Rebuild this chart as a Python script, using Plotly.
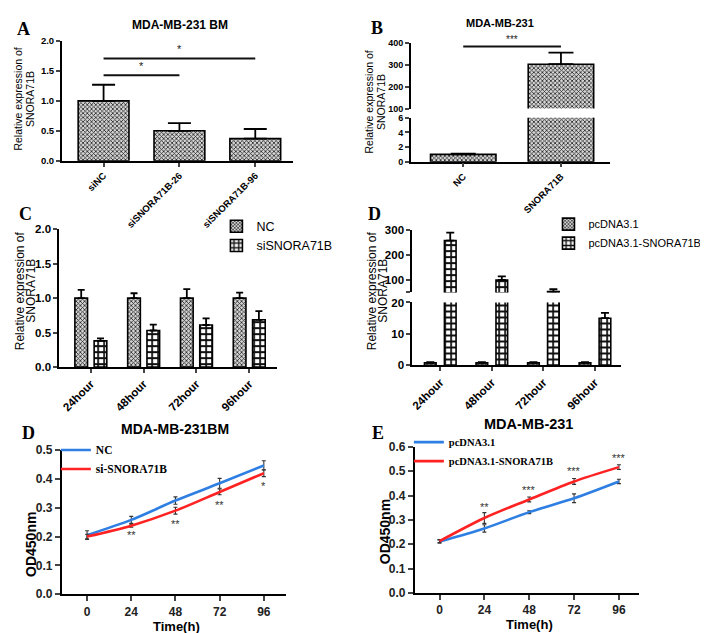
import plotly.graph_objects as go

W, H = 708, 633

def X(px):
    return px / W

def Y(py):
    return 1 - py / H

# ---------------- data ----------------
# Panel A
a_cats = ["siNC", "siSNORA71B-26", "siSNORA71B-96"]
a_vals = [1.0, 0.50, 0.37]
a_err = [0.27, 0.13, 0.16]
a_sig = [(0, 1, 1.43, "*"), (0, 2, 1.71, "*")]

# Panel B
b_cats = ["NC", "SNORA71B"]
b_vals = [1.0, 302.0]
b_err = [0.1, 53.0]
b_sig = [(0, 1, 382, "***")]

# Panel C
c_times = ["24hour", "48hour", "72hour", "96hour"]
c_nc = [1.0, 1.0, 1.0, 1.0]
c_nc_err = [0.12, 0.07, 0.13, 0.08]
c_si = [0.38, 0.53, 0.61, 0.685]
c_si_err = [0.035, 0.085, 0.095, 0.125]

# Panel D (middle)
d_times = ["24hour", "48hour", "72hour", "96hour"]
d_pc = [0.8, 0.8, 0.8, 0.8]
d_pc_err = [0.2, 0.2, 0.2, 0.2]
d_sn = [258.0, 100.0, 53.0, 15.0]
d_sn_err = [32.0, 14.0, 10.0, 1.7]

# Panel D (bottom)
t_hours = [0, 24, 48, 72, 96]
bd_nc = [0.205, 0.258, 0.325, 0.385, 0.447]
bd_nc_err = [0.015, 0.012, 0.013, 0.017, 0.016]
bd_si = [0.200, 0.238, 0.290, 0.355, 0.420]
bd_si_err = [0.008, 0.005, 0.012, 0.010, 0.012]
bd_stars = ["", "**", "**", "**", "*"]
bd_star_y = [None, 0.206, 0.243, 0.311, 0.375]

# Panel E
e_pc = [0.211, 0.265, 0.332, 0.389, 0.458]
e_pc_err = [0.007, 0.015, 0.006, 0.018, 0.009]
e_sn = [0.213, 0.308, 0.384, 0.458, 0.517]
e_sn_err = [0.006, 0.022, 0.010, 0.012, 0.010]
e_stars = ["", "**", "***", "***", "***"]
e_star_y = [None, 0.352, 0.422, 0.500, 0.553]

# ---------------- styles ----------------
SANS = "Liberation Sans"
SERIF = "Liberation Serif"
BLUE = "#2f7fe3"
RED = "#ff2222"
fine = dict(shape="x", size=3, solidity=0.45, fgcolor="#222222", bgcolor="#d4d4d4", fillmode="replace")
coarse = dict(shape="+", size=6, solidity=0.5, fgcolor="#111111", bgcolor="white", fillmode="replace")

fig = go.Figure()


def bar_trace(xpos, vals, err, pattern, xa, ya, width, offset, cap, name=None, legend=None, show=False):
    return go.Bar(
        x=xpos, y=vals, xaxis=xa, yaxis=ya, width=width, offset=offset,
        marker=dict(color="white", pattern=pattern, line=dict(color="black", width=1.6)),
        error_y=dict(type="data", symmetric=False, array=err, arrayminus=[0] * len(err),
                     color="black", thickness=1.8, width=cap),
        name=name, legend=legend, showlegend=show,
    )

# A
a_x = list(range(len(a_cats)))
fig.add_trace(bar_trace(a_x, a_vals, a_err, fine, "x", "y", 0.67, -0.335, 11.5))
# B (lower & upper segments)
b_x = list(range(len(b_cats)))
fig.add_trace(bar_trace(b_x, b_vals, b_err, fine, "x2", "y2", 0.67, -0.335, 12.5))
fig.add_trace(bar_trace(b_x, b_vals, b_err, fine, "x3", "y3", 0.67, -0.335, 12.5))
# C
c_x = list(range(len(c_times)))
fig.add_trace(bar_trace(c_x, c_nc, c_nc_err, fine, "x4", "y4", 0.24, -0.3025, 3.5, "NC", "legend", True))
fig.add_trace(bar_trace(c_x, c_si, c_si_err, coarse, "x4", "y4", 0.24, 0.0625, 3.5, "siSNORA71B", "legend", True))
# D middle (lower & upper)
d_x = list(range(len(d_times)))
for xa, ya, show in (("x5", "y5", True), ("x6", "y6", False)):
    fig.add_trace(bar_trace(d_x, d_pc, d_pc_err, fine, xa, ya, 0.226, -0.3065, 4, "pcDNA3.1", "legend2", show))
    fig.add_trace(bar_trace(d_x, d_sn, d_sn_err, coarse, xa, ya, 0.226, 0.0805, 4, "pcDNA3.1-SNORA71B", "legend2", show))


def line_trace(x, y, err, color, name, xa, ya, legend):
    return go.Scatter(
        x=x, y=y, mode="lines", line=dict(color=color, width=2.6, shape="spline", smoothing=0.8),
        error_y=dict(type="data", array=err, color="#333333", thickness=1.1, width=2),
        xaxis=xa, yaxis=ya, name=name, legend=legend,
    )

fig.add_trace(line_trace(t_hours, bd_nc, bd_nc_err, BLUE, "NC", "x7", "y7", "legend3"))
fig.add_trace(line_trace(t_hours, bd_si, bd_si_err, RED, "si-SNORA71B", "x7", "y7", "legend3"))
fig.add_trace(line_trace(t_hours, e_pc, e_pc_err, BLUE, "pcDNA3.1", "x8", "y8", "legend4"))
fig.add_trace(line_trace(t_hours, e_sn, e_sn_err, RED, "pcDNA3.1-SNORA71B", "x8", "y8", "legend4"))

# ---------------- axes ----------------
def bar_xaxis(x0, x1, y_anchor, rng, labels, size):
    return dict(domain=[X(x0), X(x1)], anchor=y_anchor, range=rng,
                tickmode="array", tickvals=list(range(len(labels))), ticktext=labels,
                tickangle=-45, ticks="outside", ticklen=4, tickwidth=1.5,
                showline=True, linecolor="black", linewidth=1.6, showgrid=False, zeroline=False,
                tickfont=dict(family=SANS, size=size, color="black", weight="bold"))


def bar_yaxis(y_top, y_bot, x_anchor, rng, tickvals, ticktext, size):
    return dict(domain=[Y(y_bot), Y(y_top)], anchor=x_anchor, range=rng,
                tickmode="array", tickvals=tickvals, ticktext=ticktext,
                ticks="outside", ticklen=4, tickwidth=1.5,
                showline=True, linecolor="black", linewidth=1.6, showgrid=False, zeroline=False,
                tickfont=dict(family=SANS, size=size, color="black", weight="bold"))


def hidden_x(x0, x1, anchor, rng):
    return dict(domain=[X(x0), X(x1)], anchor=anchor, range=rng, visible=False, showgrid=False)


def line_xaxis(x0, x1, anchor, rng):
    return dict(domain=[X(x0), X(x1)], anchor=anchor, range=rng, tickvals=t_hours,
                ticks="outside", ticklen=5, tickwidth=2, showline=True, linecolor="black",
                linewidth=2, showgrid=False, zeroline=False,
                tickfont=dict(family=SANS, size=12, color="#222222", weight="bold"))


def line_yaxis(y_top, y_bot, anchor, rng):
    return dict(domain=[Y(y_bot), Y(y_top)], anchor=anchor, range=rng, dtick=0.1, tickformat=".1f",
                ticks="outside", ticklen=5, tickwidth=2, showline=True, linecolor="black",
                linewidth=2, showgrid=False, zeroline=False,
                tickfont=dict(family=SANS, size=12, color="#222222", weight="bold"))

a_xr = [-0.55, 2.5]
b_xr = [-0.536, 1.505]
c_xr = [-0.6, 3.53]
d_xr = [-0.545, 3.51]

fig.update_layout(
    xaxis=bar_xaxis(52, 284, "y", a_xr, a_cats, 9.5),
    yaxis=bar_yaxis(26.7, 149, "x", [0, 2], [0, 0.5, 1, 1.5, 2], ["0.0", "0.5", "1.0", "1.5", "2.0"], 9.5),
    xaxis2=bar_xaxis(402, 602, "y2", b_xr, b_cats, 9.5),
    yaxis2=bar_yaxis(105, 150, "x2", [0, 6], [0, 2, 4, 6], ["0", "2", "4", "6"], 9),
    xaxis3=hidden_x(402, 602, "y3", b_xr),
    yaxis3=bar_yaxis(28.3, 95.7, "x3", [100, 400], [100, 200, 300, 400], ["100", "200", "300", "400"], 9),
    xaxis4=bar_xaxis(49.3, 268, "y4", c_xr, c_times, 11.5),
    yaxis4=bar_yaxis(219, 360, "x4", [0, 2], [0, 0.5, 1, 1.5, 2], ["0.0", "0.5", "1.0", "1.5", "2.0"], 11.5),
    xaxis5=bar_xaxis(403.3, 613, "y5", d_xr, d_times, 11.5),
    yaxis5=bar_yaxis(294, 358.3, "x5", [0, 20], [0, 10, 20], ["0", "10", "20"], 11.5),
    xaxis6=hidden_x(403.3, 613, "y6", d_xr),
    yaxis6=bar_yaxis(220, 283.7, "x6", [50, 300], [50, 100, 200, 300], ["", "100", "200", "300"], 11.5),
    xaxis7=line_xaxis(52, 276.7, "y7", [-13.7, 108]),
    yaxis7=line_yaxis(445, 592.3, "x7", [0, 0.5]),
    xaxis8=line_xaxis(406, 630.7, "y8", [-13.2, 106.7]),
    yaxis8=line_yaxis(441.7, 591, "x8", [0, 0.6]),
)

# ---------------- legends ----------------
def legend_at(xpx, ypx, family, size, weight="normal"):
    return dict(x=X(xpx), y=Y(ypx), xanchor="left", yanchor="top", bgcolor="rgba(0,0,0,0)",
                font=dict(family=family, size=size, color="black", weight=weight),
                itemwidth=30, tracegroupgap=0)

fig.update_layout(
    legend=legend_at(207, 201, SANS, 12.5),
    legend2=legend_at(540, 199, SANS, 11),
    legend3=legend_at(46, 430, SERIF, 11.5, "bold"),
    legend4=legend_at(400, 422, SERIF, 10.5, "bold"),
)

# ---------------- annotations & shapes ----------------
ann = []
shapes = []


def add_text(text, xpx, ypx, size, family=SANS, weight="normal", angle=0, color="black"):
    ann.append(dict(text=text, x=X(xpx), y=Y(ypx), xref="paper", yref="paper", showarrow=False,
                    textangle=angle, xanchor="center", yanchor="middle",
                    font=dict(family=family, size=size, color=color, weight=weight)))

# panel letters
add_text("A", 14, 14, 18, SERIF, "bold")
add_text("B", 368, 13, 18, SERIF, "bold")
add_text("C", 16, 204, 18, SERIF, "bold")
add_text("D", 366, 204, 18, SERIF, "bold")
add_text("D", 19, 427, 18, SERIF, "bold")
add_text("E", 369, 427, 18, SERIF, "bold")

# titles
add_text("MDA-MB-231 BM", 170, 10, 12, SANS, "bold")
add_text("MDA-MB-231", 491, 8, 11, SANS, "bold")
add_text("MDA-MB-231BM", 165, 423, 14, SANS, "bold")
add_text("MDA-MB-231", 520, 418, 14.5, SANS, "bold")

# y axis titles (two lines each)
ytitle_1 = "Relative expression of"
ytitle_2 = "SNORA71B"
for (x1, x2, yc, fs) in ((8.5, 20, 86, 10.5), (360, 371.5, 88.5, 10.5),
                         (10, 21.5, 281.5, 12), (363, 374.5, 281.5, 12)):
    add_text(ytitle_1, x1, yc, fs, angle=-90)
    add_text(ytitle_2, x2, yc, fs, angle=-90)

add_text("OD450nm", 21, 541, 14, SANS, "bold", angle=-90)
add_text("OD450nm", 376, 528, 14, SANS, "bold", angle=-90)
add_text("Time(h)", 167, 625, 13, SANS, "bold")
add_text("Time(h)", 521, 623, 13, SANS, "bold")

# significance bars
for (i, j, yv, s) in a_sig:
    shapes.append(dict(type="line", xref="x", yref="y", x0=i, x1=j, y0=yv, y1=yv,
                       line=dict(color="#111111", width=2)))
    ann.append(dict(text=s, x=(i + j) / 2, y=yv, xref="x", yref="y", yanchor="bottom",
                    showarrow=False, yshift=1, font=dict(family=SANS, size=11, color="#222222")))
for (i, j, yv, s) in b_sig:
    shapes.append(dict(type="line", xref="x3", yref="y3", x0=i, x1=j, y0=yv, y1=yv,
                       line=dict(color="#111111", width=2)))
    ann.append(dict(text=s, x=(i + j) / 2, y=yv, xref="x3", yref="y3", yanchor="bottom",
                    showarrow=False, yshift=0, font=dict(family=SANS, size=10, color="#222222")))

# stars on line charts
for t, s, yv in zip(t_hours, bd_stars, bd_star_y):
    if s:
        ann.append(dict(text=s, x=t, y=yv, xref="x7", yref="y7", showarrow=False,
                        font=dict(family=SANS, size=11, color="#333333")))
for t, s, yv in zip(t_hours, e_stars, e_star_y):
    if s:
        ann.append(dict(text=s, x=t, y=yv, xref="x8", yref="y8", showarrow=False,
                        font=dict(family=SANS, size=11, color="#333333")))

fig.update_layout(
    annotations=ann, shapes=shapes,
    width=W, height=H, margin=dict(l=0, r=0, t=0, b=0),
    paper_bgcolor="white", plot_bgcolor="white",
    barmode="overlay",
)

fig.write_html("out.html")
